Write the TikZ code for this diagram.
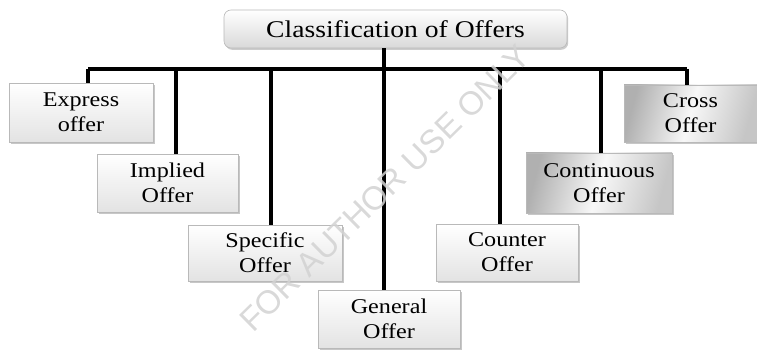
\documentclass[tikz,border=0pt]{standalone}
\usepackage{fontspec}
\setmainfont{Liberation Serif}[FakeStretch=1.15]
\newfontfamily\wmfont{Liberation Sans}
\usetikzlibrary{shadows}
\begin{document}
\begin{tikzpicture}[x=1pt,y=1pt,
  boxbase/.style={draw=gray!55, line width=0.6pt, inner sep=0pt, align=center,
    font=\fontsize{21}{25}\selectfont,
    drop shadow={shadow xshift=1.6pt, shadow yshift=-1.8pt, fill=gray!55, opacity=0.8}},
  lightbox/.style={boxbase, top color=white, bottom color=gray!22},
  darkbox/.style={boxbase, left color=gray!62, right color=gray!45, middle color=gray!6, shading angle=75},
  titlebox/.style={draw=gray!55, line width=0.6pt, rounded corners=7pt,
    top color=white, bottom color=gray!30, minimum width=343pt, minimum height=38pt,
    font=\fontsize{24}{28}\selectfont,
    drop shadow={shadow xshift=1.2pt, shadow yshift=-1.8pt, fill=gray!50, opacity=0.8}},
  link/.style={line width=3.2pt, black},
  mark text/.style={font=\wmfont\fontsize{33}{33}\selectfont, text=gray!35, opacity=0.85}]
\useasboundingbox (0,0) rectangle (757,350);

% heading
\node[titlebox] (title) at (395.5,321) {Classification of Offers};

% categories
\node[lightbox, minimum width=144pt, minimum height=59pt] (express) at (81,237.5) {Express\\offer};
\node[lightbox, minimum width=141pt, minimum height=58pt] (implied) at (167.5,167) {Implied\\Offer};
\node[lightbox, minimum width=154pt, minimum height=56pt] (specific) at (265,97) {Specific\\Offer};
\node[lightbox, minimum width=142pt, minimum height=58pt] (general) at (389,31) {General\\Offer};
\node[lightbox, minimum width=142pt, minimum height=57pt] (counter) at (507,97.5) {Counter\\Offer};
\node[darkbox, minimum width=146pt, minimum height=60pt] (continuous) at (599,167) {Continuous\\Offer};
\node[darkbox, minimum width=133pt, minimum height=57pt] (cross) at (690.5,236.5) {Cross\\Offer};

% bus line and branch points
\coordinate (bexp) at (88,281);
\coordinate (bimp) at (176,281);
\coordinate (bspe) at (271,281);
\coordinate (bgen) at (384,281);
\coordinate (bcou) at (500,281);
\coordinate (bcon) at (601,281);
\coordinate (bcro) at (687,281);

\draw[link] (bexp) -- (bcro);
\draw[link] (title.south -| bgen) -- (general.north -| bgen);
\draw[link] (bexp) -- (express.north -| bexp);
\draw[link] (bimp) -- (implied.north -| bimp);
\draw[link] (bspe) -- (specific.north -| bspe);
\draw[link] (bcou) -- (counter.north -| bcou);
\draw[link] (bcon) -- (continuous.north -| bcon);
\draw[link] (bcro) -- (cross.north -| bcro);

% watermark
\node[mark text, rotate=44.5] (wm) at (385,162) {FOR AUTHOR USE ONLY};
\end{tikzpicture}
\end{document}
